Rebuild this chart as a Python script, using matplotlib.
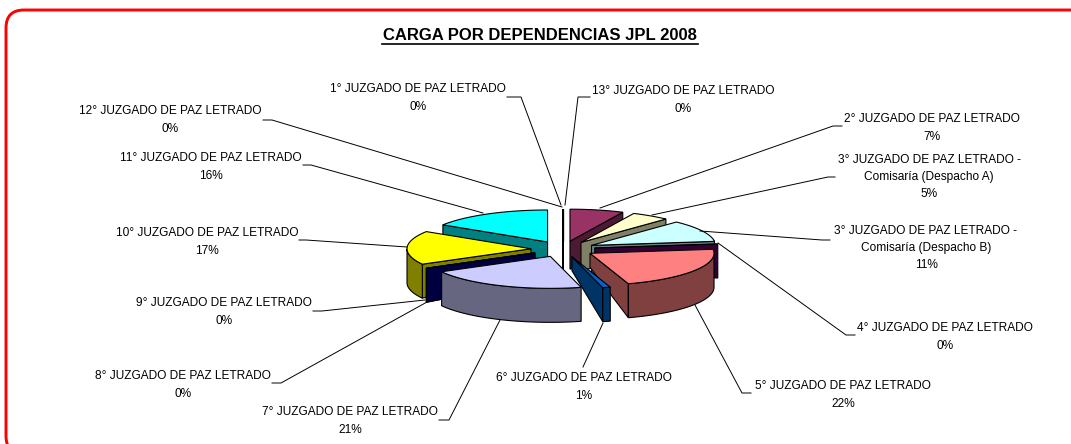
import matplotlib
matplotlib.use('Agg')
import matplotlib.pyplot as plt
from matplotlib.patches import FancyBboxPatch
import numpy as np

# ---------------------- datos ----------------------
nombres = ['1° JUZGADO DE PAZ LETRADO', '2° JUZGADO DE PAZ LETRADO',
           '3° JUZGADO DE PAZ LETRADO -\nComisaría (Despacho A)',
           '3° JUZGADO DE PAZ LETRADO -\nComisaría (Despacho B)',
           '4° JUZGADO DE PAZ LETRADO', '5° JUZGADO DE PAZ LETRADO',
           '6° JUZGADO DE PAZ LETRADO', '7° JUZGADO DE PAZ LETRADO',
           '8° JUZGADO DE PAZ LETRADO', '9° JUZGADO DE PAZ LETRADO',
           '10° JUZGADO DE PAZ LETRADO', '11° JUZGADO DE PAZ LETRADO',
           '12° JUZGADO DE PAZ LETRADO', '13° JUZGADO DE PAZ LETRADO']
valores = [0, 7, 5, 11, 0, 22, 1, 21, 0, 0, 17, 16, 0, 0]
colores = ['#9999FF', '#993366', '#FFFFCC', '#CCFFFF', '#660066', '#FF8080', '#0066CC',
           '#CCCCFF', '#000080', '#FF00FF', '#FFFF00', '#00FFFF', '#800000', '#008080']
lados = ['#4D4D80', '#4D1A33', '#808066', '#668080', '#330033', '#804040', '#003366',
         '#666680', '#000040', '#800080', '#808000', '#008080', '#400000', '#004040']

# posicion del centro de cada rotulo
rotulo_x = [418, 932, 929, 926, 945, 843, 584, 350, 183, 224, 207, 211, 170, 683]
rotulo_y = [98, 128, 177, 248, 337, 395, 387, 421, 385, 312, 242, 167, 120, 100]

# lineas guia
guias = [[(507, 97), (521, 97), (561, 205)],
         [(842, 126), (833, 126), (600, 208)],
         [(835, 177), (828, 177), (652, 215)],
         [(830, 240), (822, 240), (700, 231)],
         [(855, 335), (846, 335), (718, 243)],
         [(751, 393), (742, 393), (695, 305)],
         [(583, 367), (603, 323)],
         [(439, 420), (449, 420), (500, 320)],
         [(272, 383), (281, 383), (427, 302)],
         [(313, 311), (322, 311), (425, 300)],
         [(299, 240), (306, 240), (407, 247)],
         [(303, 165), (311, 165), (483, 213)],
         [(263, 120), (272, 120), (562, 207)],
         [(590, 97), (578, 97), (565, 205)]]

# ---------------------- geometria de la torta ----------------------
cx, cy = 563, 249
rx, ry = 124, 32
ex, ey = 32, 8
alto = 34

fig = plt.figure(figsize=(10.71, 4.44), dpi=100)
ax = fig.add_axes([0, 0, 1, 1])
ax.set_xlim(0, 1071)
ax.set_ylim(444, 0)
ax.axis('off')

# marco rojo redondeado, sale de la imagen por derecha y abajo
ax.add_patch(FancyBboxPatch((6, 10), 1200, 444, boxstyle='round,pad=0,rounding_size=18',
                            facecolor='white', edgecolor='#FF0000', linewidth=2.1))


def punto(apice, ang, r=1.0):
    t = np.radians(ang)
    return apice[0] + r * rx * np.sin(t), apice[1] - r * ry * np.cos(t)


def cara(apice, ang, color, z):
    # cara de corte radial: el fondo del apice queda mas arriba en el frente
    caida = 14 if 90 < ang <= 180 else 28
    grosor = 1.3 if ang in (0, 360) else 0.8
    x, y = punto(apice, ang)
    ax.fill([apice[0], x, x, apice[0]], [apice[1], y, y + alto, apice[1] + caida],
            facecolor=color, edgecolor='black', linewidth=grosor, zorder=z)


acum = np.cumsum([0] + valores) * 3.6
medios = (acum[:-1] + acum[1:]) / 2
# de atras hacia adelante, en empates el de menor indice queda encima
orden = sorted(range(len(valores)), key=lambda i: (-np.cos(np.radians(medios[i])), -i))

z = 2
for i in orden:
    a1, a2, m = acum[i], acum[i + 1], medios[i]
    t = np.radians(m)
    apice = (cx + ex * np.sin(t), cy - ey * np.cos(t))
    if a2 <= 180:
        cara(apice, a2, lados[i], z)
    if a1 >= 180:
        cara(apice, a1, lados[i], z)
    # pared exterior, solo la mitad del frente
    p1, p2 = max(a1, 90), min(a2, 270)
    if p2 > p1:
        arco = np.linspace(p1, p2, 60)
        xs, ys = punto(apice, arco)
        ax.fill(np.r_[xs, xs[::-1]], np.r_[ys, ys[::-1] + alto], facecolor=lados[i],
                edgecolor='black', linewidth=0.8, zorder=z)
    # tapa
    arco = np.linspace(a1, a2, 60)
    xs, ys = punto(apice, arco)
    ax.fill(np.r_[apice[0], xs], np.r_[apice[1], ys], facecolor=colores[i],
            edgecolor='black', linewidth=0.8, zorder=z)
    z += 1

# ---------------------- rotulos ----------------------
for g in guias:
    g = np.array(g)
    ax.plot(g[:, 0], g[:, 1], color='black', linewidth=0.7, zorder=50)

for n, v, x, y in zip(nombres, valores, rotulo_x, rotulo_y):
    ax.text(x, y, f'{n}\n{v:.0f}%', ha='center', va='center', fontsize=8.6,
            family='Liberation Sans', linespacing=1.6, color='black', zorder=60)

ax.text(540, 35, 'CARGA POR DEPENDENCIAS JPL 2008', ha='center', va='center', fontsize=12,
        fontweight='bold', family='Liberation Sans', color='black', zorder=60)
ax.plot([382, 698], [44, 44], color='black', linewidth=1.2, zorder=60)

plt.savefig('out.png', dpi=100)
